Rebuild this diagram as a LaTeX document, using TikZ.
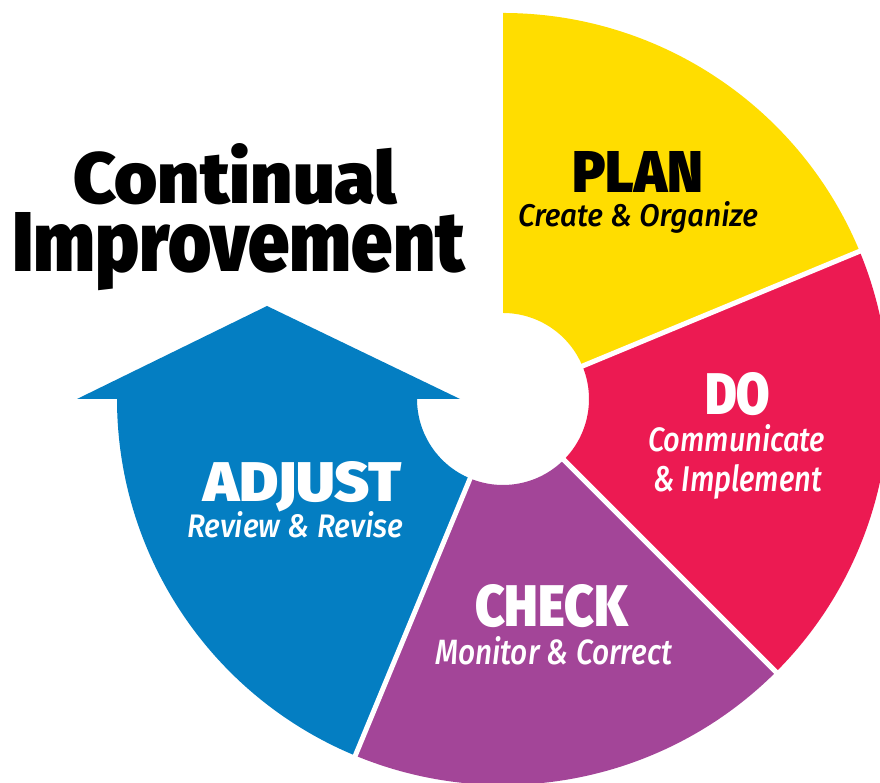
\documentclass[tikz,border=0pt]{standalone}
\usepackage{fontspec}
\setmainfont{Fira Sans}
\newfontfamily\blackfont{Fira Sans Black}
\newfontfamily\subfont{Fira Sans Medium Italic}
\newcommand\fittext[3]{\resizebox{#1pt}{#2pt}{#3}}
\definecolor{planY}{RGB}{255,221,0}
\definecolor{doR}{RGB}{236,26,82}
\definecolor{checkP}{RGB}{163,69,152}
\definecolor{adjB}{RGB}{4,126,194}
\begin{document}
\begin{tikzpicture}[x=1pt,y=1pt,
  lbl/.style={inner sep=0pt, outer sep=0pt, anchor=base west},
  gap/.style={draw=white, line width=5pt}]
\useasboundingbox (0,0) rectangle (880,783);
\clip (0,0) rectangle (880,783);
\begin{scope}[shift={(503,384)}]
  % PLAN
  \fill[planY] (90:386) arc[start angle=90, end angle=22.5, radius=386]
     -- (22.5:86) arc[start angle=22.5, end angle=90, radius=86] -- cycle;
  % DO
  \fill[doR] (22.5:386) arc[start angle=22.5, end angle=-45, radius=386]
     -- (-45:86) arc[start angle=-45, end angle=22.5, radius=86] -- cycle;
  % CHECK
  \fill[checkP] (-45:386) arc[start angle=-45, end angle=-112.5, radius=386]
     -- (-112.5:86) arc[start angle=-112.5, end angle=-45, radius=86] -- cycle;
  % ADJUST with arrow
  \fill[adjB] (180:386) arc[start angle=180, end angle=247.5, radius=386]
     -- (247.5:86) arc[start angle=247.5, end angle=180, radius=86]
     -- (-43,0) -- (-236,93) -- (-426,0) -- cycle;
  % separators
  \draw[gap] (22.5:80) -- (22.5:400);
  \draw[gap] (-45:80) -- (-45:400);
  \draw[gap] (-112.5:80) -- (-112.5:400);
\end{scope}
% title
\node[lbl] (t1) at (73,579) {\fittext{324}{60}{\blackfont Continual}};
\node[lbl] (t2) at (12,511) {\fittext{453}{59}{\blackfont Improvement}};
% PLAN
\node[lbl] (plan) at (572,590) {\fittext{131}{41}{\blackfont PLAN}};
\node[lbl] (plans) at (518,556) {\fittext{240}{25}{\subfont Create \& Organize}};
% DO
\node[lbl,text=white] (do) at (705,368) {\fittext{65}{42}{\blackfont DO}};
\node[lbl,text=white] (dos1) at (648,331) {\fittext{177}{27}{\subfont Communicate}};
\node[lbl,text=white] (dos2) at (653,291) {\fittext{169}{27}{\subfont \& Implement}};
% CHECK
\node[lbl,text=white] (check) at (475,156) {\fittext{153}{42}{\blackfont CHECK}};
\node[lbl,text=white] (checks) at (435,118) {\fittext{237}{28}{\subfont Monitor \& Correct}};
% ADJUST
\node[lbl,text=white] (adj) at (203,281) {\fittext{199}{40}{\blackfont ADJUST}};
\node[lbl,text=white] (adjs) at (187,245) {\fittext{216}{26}{\subfont Review \& Revise}};
\end{tikzpicture}
\end{document}
